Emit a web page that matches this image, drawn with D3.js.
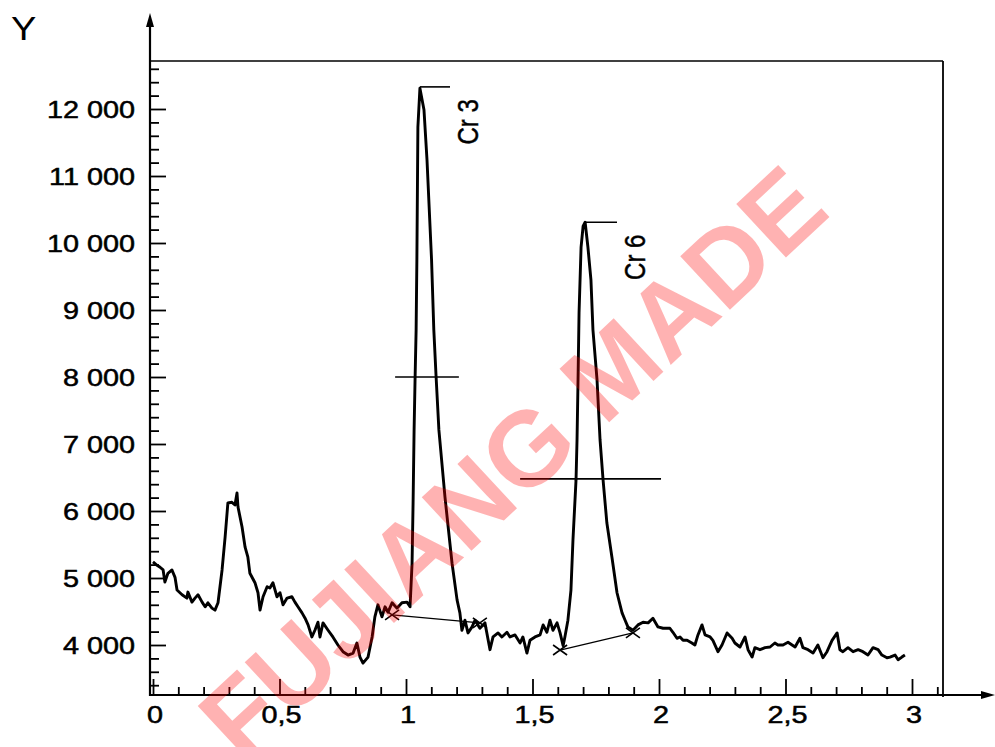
<!DOCTYPE html>
<html>
<head>
<meta charset="utf-8">
<script src="https://cdn.jsdelivr.net/npm/d3@7"></script>
<style>
  body { margin: 0; background: #fff; }
  svg { display: block; }
  text { font-family: "Liberation Sans", Arial, sans-serif; fill: #000; }
</style>
</head>
<body>
<svg id="graph"></svg>
<script>
// spectrum trace
var signalX = [0, 0.016, 0.028, 0.040, 0.047, 0.059, 0.075, 0.087, 0.095, 0.115, 0.134, 0.138, 0.154, 0.166, 0.178, 0.194, 0.206, 0.217, 0.233, 0.245, 0.257,
    0.273, 0.285, 0.296, 0.312, 0.324, 0.332, 0.336, 0.352, 0.364, 0.375, 0.383, 0.403, 0.415, 0.423, 0.435, 0.451, 0.462, 0.474, 0.490, 0.502,
    0.514, 0.530, 0.549, 0.561, 0.573, 0.589, 0.601, 0.613, 0.628, 0.640, 0.652, 0.660, 0.672, 0.692, 0.711, 0.731, 0.751, 0.771, 0.791, 0.806,
    0.818, 0.830, 0.850, 0.866, 0.877, 0.889, 0.905, 0.917, 0.929, 0.945, 0.964, 0.984, 1.004, 1.016,
    1.024, 1.028, 1.032, 1.036, 1.040, 1.043, 1.047, 1.055, 1.071, 1.083, 1.101, 1.110, 1.119, 1.130, 1.154, 1.182, 1.202, 1.213,
    1.221, 1.233, 1.245, 1.261, 1.273, 1.292, 1.312, 1.332, 1.344, 1.364, 1.379, 1.399, 1.411, 1.431, 1.451, 1.462, 1.478, 1.490, 1.510, 1.530,
    1.542, 1.557, 1.569, 1.581, 1.597, 1.609, 1.621, 1.628, 1.640, 1.652, 1.660, 1.672, 1.676, 1.680, 1.684, 1.692, 1.700, 1.708,
    1.719, 1.731, 1.739, 1.755, 1.767, 1.779, 1.794, 1.814, 1.834, 1.854, 1.866, 1.877, 1.897, 1.917, 1.937, 1.957, 1.976, 1.996,
    2.016, 2.043, 2.055, 2.071, 2.083, 2.095, 2.111, 2.130, 2.142, 2.154, 2.170, 2.182, 2.202, 2.213, 2.233, 2.249, 2.269, 2.289, 2.300,
    2.320, 2.340, 2.352, 2.368, 2.379, 2.399, 2.419, 2.439, 2.458, 2.470, 2.490, 2.510, 2.526, 2.538, 2.557, 2.569, 2.589, 2.609, 2.628,
    2.648, 2.664, 2.684, 2.704, 2.715, 2.727, 2.747, 2.767, 2.787, 2.806, 2.826, 2.846, 2.866, 2.881, 2.901, 2.913, 2.933, 2.945, 2.960, 2.972];
var signalY = [5240, 5190, 5160, 5120, 4940, 5070, 5120, 5010, 4820, 4750, 4700, 4790, 4640, 4700, 4750, 4640, 4570, 4630, 4550, 4520, 4630,
    5120, 5610, 6120, 6130, 6090, 6270, 6060, 5760, 5460, 5310, 5070, 4930, 4780, 4520, 4720, 4870, 4850, 4930, 4720, 4780,
    4600, 4700, 4720, 4640, 4570, 4480, 4400, 4300, 4120, 4220, 4340, 4120, 4330, 4220, 4120, 4000, 3900, 3850, 3880, 4030,
    3820, 3730, 3820, 4120, 4420, 4600, 4420, 4570, 4490, 4630, 4550, 4630, 4640, 4570,
    5220, 6120, 7210, 8000, 8700, 9750, 11730, 12310, 11990, 11240, 9750, 8700, 8000, 7210, 6210, 5220, 4670, 4480,
    4220, 4370, 4180, 4270, 4370, 4250, 4330, 3930, 4120, 4180, 4120, 4190, 4120, 4150, 4030, 4120, 3880, 4070, 4120, 4150,
    4300, 4190, 4370, 4220, 4330, 4180, 3990, 4120, 4370, 4820, 5570, 6460, 7060, 7960, 8960, 9940, 10250, 10310,
    9940, 9450, 8700, 7960, 7060, 6460, 5820, 5310, 4780, 4480, 4370, 4270, 4220, 4300, 4340, 4330, 4400, 4270,
    4250, 4250, 4190, 4100, 4120, 4070, 4070, 4030, 4000, 4150, 4300, 4150, 4120, 4070, 3900, 4000, 4180, 4100, 4030,
    3970, 4120, 3930, 3820, 3960, 3930, 3960, 3970, 4030, 4000, 4000, 4040, 4000, 3970, 4100, 3960, 3930, 3880, 4000,
    3810, 3900, 4070, 4180, 3930, 3900, 3960, 3900, 3930, 3900, 3850, 3960, 3930, 3850, 3810, 3820, 3850, 3780, 3820, 3850];

var yTicks = [4000, 5000, 6000, 7000, 8000, 9000, 10000, 11000, 12000];
var yLabels = ["4 000", "5 000", "6 000", "7 000", "8 000", "9 000", "10 000", "11 000", "12 000"];
var xTicks = [0, 0.5, 1, 1.5, 2, 2.5, 3];
var xLabels = ["0", "0,5", "1", "1,5", "2", "2,5", "3"];

// peak annotations
var peakNames = ["Cr 3", "Cr 6"];
var peakTop = [[1.055, 12330, 1.174], [1.708, 10310, 1.834]];     // x, y, end of top marker
var halfWidth = [[0.957, 1.209, 8000], [1.451, 2.008, 6480]];     // x1, x2, level
var baseLine = [[0.945, 4450, 1.292, 4330], [1.609, 3925, 1.897, 4180]];

var width = 995, height = 747;
var svg = d3.select("#graph").attr("width", width).attr("height", height);

var x = d3.scaleLinear().domain([0, 3]).range([153, 912]);
var y = d3.scaleLinear().domain([4000, 12000]).range([645, 109]);

var axisX = 150, axisY = 695, frameTop = 61, frameRight = 943;

// frame lines
svg.append("line").attr("x1", axisX).attr("x2", frameRight).attr("y1", frameTop).attr("y2", frameTop)
    .attr("stroke", "#000").attr("stroke-width", 1.6);
svg.append("line").attr("x1", frameRight).attr("x2", frameRight).attr("y1", frameTop).attr("y2", axisY + 2)
    .attr("stroke", "#000").attr("stroke-width", 1.8);

// axis lines with arrows
svg.append("line").attr("x1", axisX).attr("x2", axisX).attr("y1", 22).attr("y2", axisY + 1)
    .attr("stroke", "#000").attr("stroke-width", 2.2);
svg.append("path").attr("d", "M" + axisX + ",13L" + (axisX - 4) + ",27L" + (axisX + 4) + ",27Z").attr("fill", "#000");
svg.append("line").attr("x1", axisX).attr("x2", 985).attr("y1", axisY).attr("y2", axisY)
    .attr("stroke", "#000").attr("stroke-width", 2.2);
svg.append("path").attr("d", "M995," + axisY + "L981," + (axisY - 4) + "L981," + (axisY + 4) + "Z").attr("fill", "#000");

// y ticks (inside)
var yMinor = d3.range(3400, 12700, 200).filter(function (d) { return d % 1000 !== 0; });
function tickStyle(g) {
    g.select(".domain").remove();
    g.selectAll(".tick line").attr("stroke", "#000").attr("stroke-width", 1.8);
}
svg.append("g").attr("transform", "translate(" + axisX + ",0)")
    .call(d3.axisRight(y).tickValues(yTicks).tickSize(16).tickSizeOuter(0).tickFormat(""))
    .call(tickStyle);
svg.append("g").attr("transform", "translate(" + axisX + ",0)")
    .call(d3.axisRight(y).tickValues(yMinor).tickSize(9).tickSizeOuter(0).tickFormat(""))
    .call(tickStyle);

// x ticks (inside)
var xMinor = d3.range(1, 32).map(function (d) { return d / 10; }).filter(function (d) { return Math.round(d * 10) % 5 !== 0; });
svg.append("g").attr("transform", "translate(0," + axisY + ")")
    .call(d3.axisTop(x).tickValues(xTicks).tickSize(16).tickSizeOuter(0).tickFormat(""))
    .call(tickStyle);
svg.append("g").attr("transform", "translate(0," + axisY + ")")
    .call(d3.axisTop(x).tickValues(xMinor).tickSize(8).tickSizeOuter(0).tickFormat(""))
    .call(tickStyle);

// tick labels (the scan is stretched sideways)
svg.selectAll(".ylab").data(yTicks).enter().append("text")
    .attr("class", "ylab")
    .attr("transform", function (d) { return "translate(135," + (y(d) + 8.5) + ") scale(1.2,1)"; })
    .attr("text-anchor", "end")
    .style("font-size", "24px").style("stroke", "#000").style("stroke-width", 0.5)
    .text(function (d, i) { return yLabels[i]; });
svg.selectAll(".xlab").data(xTicks).enter().append("text")
    .attr("class", "xlab")
    .attr("transform", function (d) { return "translate(" + (x(d) + 2) + ",723) scale(1.2,1)"; })
    .attr("text-anchor", "middle")
    .style("font-size", "24px").style("stroke", "#000").style("stroke-width", 0.5)
    .text(function (d, i) { return xLabels[i]; });

svg.append("text").attr("transform", "translate(11,40) scale(1.15,1)")
    .style("font-size", "33px").text("Y");

// signal
var line = d3.line()
    .x(function (d) { return x(d[0]); })
    .y(function (d) { return y(d[1]); });
var points = signalX.map(function (d, i) { return [d, signalY[i]]; });
svg.append("path").datum(points)
    .attr("d", line)
    .attr("fill", "none").attr("stroke", "#000")
    .attr("stroke-width", 2.9).attr("stroke-linejoin", "round");

// peak top markers
svg.selectAll(".top").data(peakTop).enter().append("line")
    .attr("x1", function (d) { return x(d[0]); }).attr("x2", function (d) { return x(d[2]); })
    .attr("y1", function (d) { return y(d[1]); }).attr("y2", function (d) { return y(d[1]); })
    .attr("stroke", "#000").attr("stroke-width", 1.6);

// half height lines
svg.selectAll(".half").data(halfWidth).enter().append("line")
    .attr("x1", function (d) { return x(d[0]); }).attr("x2", function (d) { return x(d[1]); })
    .attr("y1", function (d) { return y(d[2]); }).attr("y2", function (d) { return y(d[2]); })
    .attr("stroke", "#000").attr("stroke-width", 1.6);

// baselines with cross marks
svg.selectAll(".base").data(baseLine).enter().append("line")
    .attr("x1", function (d) { return x(d[0]); }).attr("y1", function (d) { return y(d[1]); })
    .attr("x2", function (d) { return x(d[2]); }).attr("y2", function (d) { return y(d[3]); })
    .attr("stroke", "#000").attr("stroke-width", 1.3);
var crosses = [];
baseLine.forEach(function (d) { crosses.push([d[0], d[1]]); crosses.push([d[2], d[3]]); });
svg.selectAll(".cross").data(crosses).enter().append("path")
    .attr("d", function (d) {
        var cx = x(d[0]), cy = y(d[1]);
        return "M" + (cx - 7) + "," + (cy - 5) + "L" + (cx + 7) + "," + (cy + 5) +
            "M" + (cx - 7) + "," + (cy + 5) + "L" + (cx + 7) + "," + (cy - 5);
    })
    .attr("fill", "none").attr("stroke", "#000").attr("stroke-width", 1.6);

// peak names, rotated
svg.selectAll(".pname").data(peakTop).enter().append("text")
    .attr("transform", function (d) {
        return "translate(" + (x(d[2]) + 28) + "," + (y(d[1]) + 35) + ") scale(1.2,1) rotate(-90)";
    })
    .attr("text-anchor", "middle")
    .style("font-size", "24px").style("stroke", "#000").style("stroke-width", 0.4)
    .text(function (d, i) { return peakNames[i]; });

// watermark (its lower end runs off the picture, as in the scan)
svg.append("text")
    .attr("transform", "translate(512,462) rotate(-43)")
    .attr("text-anchor", "middle")
    .attr("dy", "0.35em")
    .style("font-size", "106px").style("font-weight", "bold")
    .style("fill", "#ff0000").style("fill-opacity", 0.3)
    .text("FUJIANG MADE");
</script>
</body>
</html>
